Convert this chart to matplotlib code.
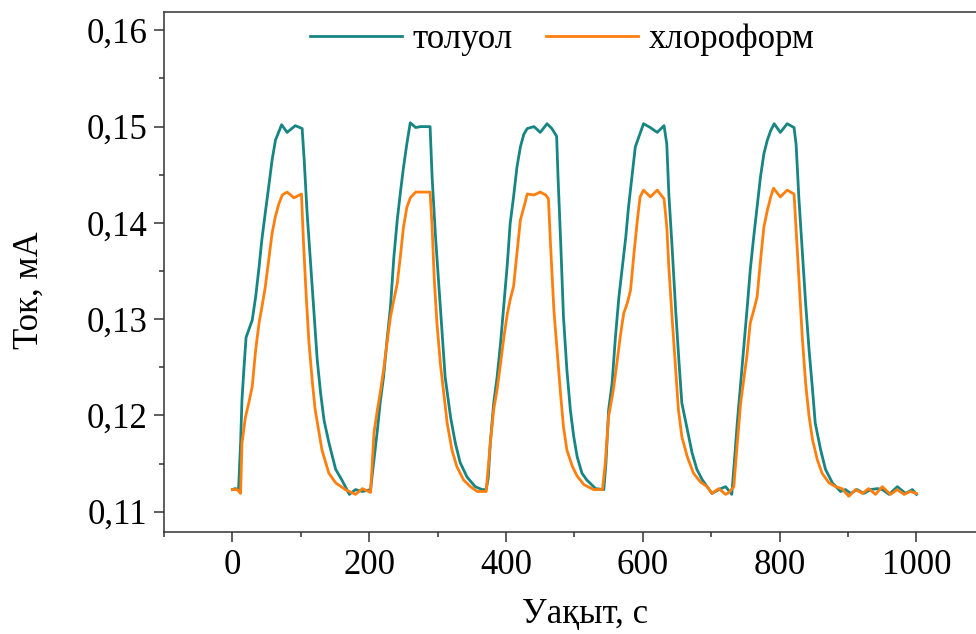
"""
Sensor response (current vs time) for toluene and chloroform vapour cycles
"""

import numpy as np
import matplotlib
matplotlib.use('Agg')
import matplotlib.pyplot as plt
import matplotlib.ticker as ticker

# ---------------------------------------------------------------------------
# Data (time in s, current in mA)

t_toluene = [0, 4, 9, 12, 14, 17, 20, 29, 34, 39, 43, 48, 53, 58, 63, 72, 80, 92, 102,
             105, 109, 114, 119, 124, 129, 134, 141, 151, 160, 171, 180, 190, 202,
             207, 212, 216, 221, 226, 231, 236, 241, 246, 250, 255, 260, 268, 275, 289,
             292, 297, 302, 307, 311, 319, 326, 333, 343, 355, 365, 371,
             374, 377, 382, 387, 392, 397, 402, 406, 411, 416, 421, 426, 431, 441, 450,
             460, 467, 474, 476, 480, 484, 489, 494, 499, 504, 511, 518, 531, 543,
             546, 550, 555, 560, 565, 570, 575, 579, 584, 589, 594, 601, 611, 621, 631,
             635, 638, 643, 648, 653, 657, 665, 672, 679, 687, 694, 701, 711, 721, 730,
             734, 738, 743, 748, 753, 757, 762, 767, 772, 777, 782, 787, 792, 801, 811,
             821, 824, 828, 833, 838, 843, 848, 852, 860, 867, 877, 889, 896, 904, 913,
             923, 933, 943, 950, 960, 972, 984, 994, 1000]
i_toluene = [0.1123, 0.1124, 0.1123, 0.1171, 0.1216, 0.1250, 0.1281, 0.1299, 0.1323, 0.1354,
             0.1382, 0.1410, 0.1437, 0.1465, 0.1486, 0.1502, 0.1494, 0.1501, 0.1498,
             0.1465, 0.1413, 0.1361, 0.1309, 0.1258, 0.1223, 0.1195, 0.1172, 0.1144, 0.1133,
             0.1118, 0.1123, 0.1121, 0.1123,
             0.1154, 0.1185, 0.1213, 0.1240, 0.1278, 0.1312, 0.1364, 0.1403, 0.1434, 0.1457,
             0.1482, 0.1504, 0.1499, 0.1500, 0.1500,
             0.1447, 0.1385, 0.1333, 0.1281, 0.1240, 0.1198, 0.1171, 0.1151, 0.1136, 0.1126,
             0.1123, 0.1123,
             0.1135, 0.1171, 0.1213, 0.1240, 0.1275, 0.1316, 0.1358, 0.1399, 0.1427, 0.1458,
             0.1479, 0.1492, 0.1498, 0.1500, 0.1494,
             0.1503, 0.1498, 0.1490, 0.1448, 0.1378, 0.1302, 0.1247, 0.1206, 0.1178, 0.1157,
             0.1140, 0.1133, 0.1124, 0.1123,
             0.1150, 0.1206, 0.1233, 0.1282, 0.1323, 0.1354, 0.1385, 0.1416, 0.1448, 0.1479,
             0.1489, 0.1503, 0.1499, 0.1494, 0.1501,
             0.1482, 0.1430, 0.1372, 0.1309, 0.1254, 0.1213, 0.1185, 0.1161, 0.1144, 0.1133,
             0.1126, 0.1119, 0.1123, 0.1126, 0.1118,
             0.1154, 0.1192, 0.1233, 0.1275, 0.1316, 0.1351, 0.1385, 0.1416, 0.1448, 0.1472,
             0.1486, 0.1496, 0.1503, 0.1494, 0.1503,
             0.1499, 0.1482, 0.1427, 0.1372, 0.1316, 0.1268, 0.1227, 0.1192, 0.1164, 0.1144,
             0.1130, 0.1121, 0.1123, 0.1119, 0.1123,
             0.1119, 0.1123, 0.1124, 0.1123, 0.1118, 0.1126, 0.1119, 0.1123, 0.1118]

t_chloroform = [0, 7, 12, 14, 19, 24, 29, 34, 39, 43, 48, 53, 58, 63, 68, 73, 80, 90, 101,
                104, 108, 112, 117, 121, 126, 131, 141, 151, 165, 180, 190, 199, 202,
                207, 212, 216, 221, 226, 231, 236, 241, 246, 250, 255, 260, 268, 289,
                292, 295, 299, 304, 309, 314, 321, 328, 338, 348, 358, 371,
                377, 382, 387, 392, 397, 402, 406, 411, 416, 421, 426, 431, 441, 450, 458,
                462, 465, 470, 475, 480, 484, 489, 497, 504, 514, 528, 541,
                545, 550, 557, 562, 567, 572, 577, 582, 587, 592, 596, 601, 611, 621, 631,
                635, 638, 643, 648, 652, 657, 665, 674, 684, 694, 701, 711, 721, 726, 733,
                738, 743, 748, 752, 757, 762, 767, 772, 777, 782, 787, 791, 801, 811, 821,
                823, 828, 833, 838, 843, 848, 855, 862, 872, 882, 891, 901, 911, 921, 930,
                940, 950, 962, 972, 982, 991, 1000]
i_chloroform = [0.1123, 0.1123, 0.1119, 0.1171, 0.1198, 0.1213, 0.1230, 0.1268, 0.1296, 0.1312,
                0.1333, 0.1361, 0.1389, 0.1407, 0.1420, 0.1429, 0.1432, 0.1426, 0.1430,
                0.1379, 0.1323, 0.1275, 0.1234, 0.1206, 0.1185, 0.1164, 0.1140, 0.1130, 0.1123,
                0.1118, 0.1124, 0.1121, 0.1120,
                0.1182, 0.1206, 0.1223, 0.1247, 0.1275, 0.1302, 0.1320, 0.1337, 0.1368, 0.1395,
                0.1416, 0.1426, 0.1432, 0.1432,
                0.1395, 0.1343, 0.1296, 0.1254, 0.1223, 0.1192, 0.1164, 0.1147, 0.1133, 0.1126,
                0.1121, 0.1121,
                0.1171, 0.1206, 0.1227, 0.1254, 0.1282, 0.1306, 0.1320, 0.1334, 0.1368, 0.1403,
                0.1416, 0.1430, 0.1429, 0.1432, 0.1429,
                0.1425, 0.1378, 0.1309, 0.1264, 0.1220, 0.1188, 0.1164, 0.1147, 0.1137, 0.1128,
                0.1123, 0.1123,
                0.1150, 0.1199, 0.1227, 0.1254, 0.1282, 0.1306, 0.1316, 0.1330, 0.1368, 0.1403,
                0.1427, 0.1434, 0.1427, 0.1434, 0.1425,
                0.1396, 0.1354, 0.1299, 0.1247, 0.1206, 0.1178, 0.1157, 0.1140, 0.1131, 0.1126,
                0.1119, 0.1124, 0.1118, 0.1120, 0.1126,
                0.1171, 0.1213, 0.1240, 0.1261, 0.1296, 0.1309, 0.1323, 0.1361, 0.1396, 0.1413,
                0.1427, 0.1436, 0.1427, 0.1434, 0.1430,
                0.1406, 0.1344, 0.1282, 0.1233, 0.1199, 0.1175, 0.1154, 0.1140, 0.1130, 0.1126,
                0.1124, 0.1116, 0.1123, 0.1119, 0.1124,
                0.1118, 0.1126, 0.1118, 0.1123, 0.1118, 0.1121, 0.1119]

series_labels = ['толуол', 'хлороформ']
series_colors = ['#168583', '#ff7f0e']


def main():
    plt.rcParams['font.family'] = ['Liberation Serif', 'DejaVu Serif']
    plt.rcParams['font.size'] = 25

    fig = plt.figure(figsize=(9.76, 6.34), dpi=100, facecolor='white')
    ax = fig.add_axes([0.168, 0.161, 0.832, 0.820])

    ax.plot(t_toluene, i_toluene, color=series_colors[0], lw=2.0, label=series_labels[0])
    ax.plot(t_chloroform, i_chloroform, color=series_colors[1], lw=2.0, label=series_labels[1])

    ax.set_xlim(-100, 1087)
    ax.set_ylim(0.1079, 0.1619)

    # Ticks
    ax.xaxis.set_major_locator(ticker.MultipleLocator(200))
    ax.xaxis.set_minor_locator(ticker.MultipleLocator(100))
    ax.yaxis.set_major_locator(ticker.MultipleLocator(0.01))
    ax.yaxis.set_minor_locator(ticker.MultipleLocator(0.005))
    ax.yaxis.set_major_formatter(ticker.FuncFormatter(lambda v, p: f'{v:.2f}'.replace('.', ',')))
    ax.tick_params(which='major', direction='out', length=7, width=1.1, color='#333333',
                   labelsize=25, pad=5)
    ax.tick_params(which='minor', direction='out', length=3.5, width=1.1, color='#333333')

    for side in ['left', 'bottom', 'top']:
        ax.spines[side].set_color('#333333')
        ax.spines[side].set_linewidth(1.1)
    ax.spines['right'].set_visible(False)

    ax.set_xlabel('Уақыт, с', fontsize=25)
    ax.set_ylabel('Ток, мА', fontsize=25)
    ax.xaxis.set_label_coords(0.518, -0.128)
    ax.yaxis.set_label_coords(-0.145, 0.465)

    ax.legend(loc='center', bbox_to_anchor=(0.576, 0.937), bbox_transform=fig.transFigure,
              ncol=2, frameon=False, fontsize=25, handlelength=2.65, handletextpad=0.3,
              columnspacing=0.95)

    fig.savefig('out.png', dpi=100, facecolor='white')


if __name__ == '__main__':
    main()
